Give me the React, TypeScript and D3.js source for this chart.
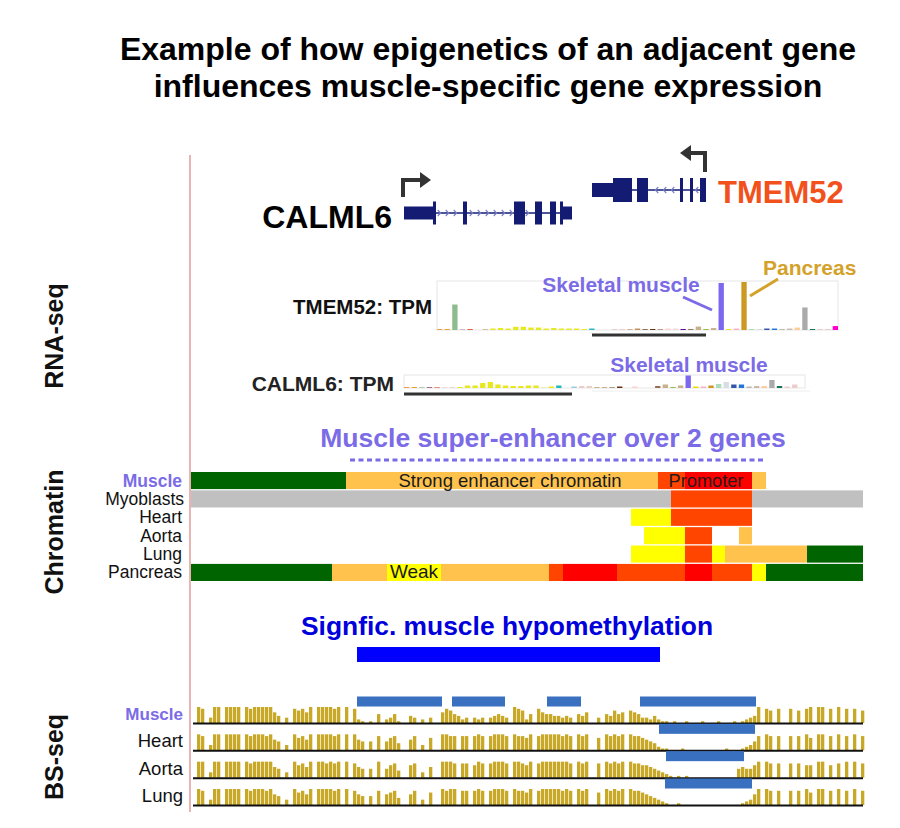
import React from "react";
import * as d3 from "d3";

const FONT = "'Liberation Sans', Arial, Helvetica, sans-serif";

const titleLines = [
  "Example of how epigenetics of an adjacent gene",
  "influences muscle-specific gene expression",
];

// genomic window in kb, from the left edge of the tracks
const regionKb = [0, 67.2];

// gene models (kb)
const calml6Span = [21.3, 38.1];
const calml6Utr = [[21.3, 24.5], [37.2, 38.1]];
const calml6Exons = [[24.2, 24.5], [27.2, 27.6], [32.3, 33.4], [34.4, 35.1], [35.9, 36.5], [36.9, 37.2]];
const tmem52Span = [40.1, 51.5];
const tmem52Utr = [[40.1, 42.2]];
const tmem52Exons = [[42.2, 44.1], [44.6, 45.7], [48.9, 49.2], [49.9, 50.2], [50.9, 51.5]];

// GTEx tissues
const tissues = [
  "Adipose Subcutaneous", "Adipose Visceral", "Adrenal Gland", "Artery Aorta", "Artery Coronary",
  "Artery Tibial", "Bladder", "Brain Amygdala", "Brain Anterior Cingulate", "Brain Caudate",
  "Brain Cerebellar Hemisphere", "Brain Cerebellum", "Brain Cortex", "Brain Frontal Cortex",
  "Brain Hippocampus", "Brain Hypothalamus", "Brain Nucleus Accumbens", "Brain Putamen",
  "Brain Spinal Cord", "Brain Substantia Nigra", "Breast", "EBV Lymphocytes", "Cultured Fibroblasts",
  "Cervix Ectocervix", "Cervix Endocervix", "Colon Sigmoid", "Colon Transverse", "Esophagus GE Junction",
  "Esophagus Mucosa", "Esophagus Muscularis", "Fallopian Tube", "Heart Atrial Appendage",
  "Heart Left Ventricle", "Kidney Cortex", "Liver", "Lung", "Minor Salivary Gland", "Muscle Skeletal",
  "Nerve Tibial", "Ovary", "Pancreas", "Pituitary", "Prostate", "Skin Not Sun Exposed",
  "Skin Sun Exposed", "Small Intestine", "Spleen", "Stomach", "Testis", "Thyroid", "Uterus",
  "Vagina", "Whole Blood",
];
const tissueColors = [
  "#f0a040", "#e8a030", "#8fbc8f", "#883355", "#e06040", "#e0b090", "#d8c0a0",
  "#e8e820", "#e8e820", "#e8e820", "#e8e820", "#e8e820", "#e8e820", "#e8e820",
  "#e8e820", "#e8e820", "#e8e820", "#e8e820", "#e8e820", "#e8e820", "#22bbbb",
  "#c0a0d0", "#99ccdd", "#eecccc", "#e8d0c8", "#ccb088", "#c09060", "#8b7355",
  "#663311", "#bb9988", "#ffd0d0", "#eed8d8", "#660099", "#9a7050", "#c8b08a",
  "#99bb44", "#c8b090", "#7b68ee", "#eedd00", "#ffb0c0", "#cc9922", "#aaddbb",
  "#d6dde4", "#3355aa", "#2277dd", "#c0b8b0", "#ccbbaa", "#ffcc99", "#aaaaaa",
  "#117755", "#eeccd0", "#eecccc", "#ff00cc",
];
const tmem52Tpm = [1, 1, 26, 0.3, 1, 0, 1, 1.5, 2, 1.5, 3.3, 3.3, 2.5, 2.5, 1.5, 2, 1.5, 1.5, 1.5, 1, 1.5, 0, 0, 1, 1, 1, 1.5, 1, 1, 1, 1.5, 1.5, 1, 1, 3.5, 1, 2, 48, 0.8, 1.5, 49, 1, 1, 1.5, 1.5, 1, 1.5, 2.5, 23, 1, 1, 1, 4];
const calml6Tpm = [1, 1, 0.7, 0.7, 0.7, 0.3, 0.5, 1, 2.5, 2.5, 5, 6, 3.5, 2.5, 2, 2, 2.5, 2.5, 0.3, 1.5, 2.5, 0, 1.5, 2, 2, 1, 0.7, 0.7, 1.5, 0, 1.5, 0, 0, 2, 3.5, 1, 2.5, 12.5, 1.5, 1.5, 2.5, 4, 6, 3.5, 3.5, 1.5, 2, 2, 8, 2, 1.5, 3.5, 0];

// chromatin states
const stateColors: Record<string, string> = {
  TssA: "#ff0000",
  TssFlnk: "#ff4500",
  Enh: "#ffc34d",
  EnhWk: "#ffff00",
  Tx: "#006400",
  Quies: "#c0c0c0",
};
const chromRows = ["Muscle", "Myoblasts", "Heart", "Aorta", "Lung", "Pancreas"];
const muscleChrom = [[0, 15.5, "Tx"], [15.5, 46.7, "Enh"], [46.7, 49.4, "TssFlnk"], [49.4, 56.1, "TssA"], [56.1, 57.5, "Enh"]];
const myoblastChrom = [[0, 48.0, "Quies"], [48.0, 56.1, "TssFlnk"], [56.1, 67.2, "Quies"]];
const heartChrom = [[44.0, 48.0, "EnhWk"], [48.0, 56.1, "TssFlnk"]];
const aortaChrom = [[45.3, 49.4, "EnhWk"], [49.4, 52.1, "TssFlnk"], [54.8, 56.1, "Enh"]];
const lungChrom = [[44.0, 49.4, "EnhWk"], [49.4, 52.1, "TssFlnk"], [52.1, 53.4, "EnhWk"], [53.4, 61.6, "Enh"], [61.6, 67.2, "Tx"]];
const pancreasChrom = [[0, 14.1, "Tx"], [14.1, 19.6, "Enh"], [19.6, 25.0, "EnhWk"], [25.0, 35.8, "Enh"], [35.8, 37.2, "TssFlnk"], [37.2, 42.6, "TssA"], [42.6, 49.4, "TssFlnk"], [49.4, 52.1, "TssA"], [52.1, 56.1, "TssFlnk"], [56.1, 57.5, "EnhWk"], [57.5, 67.2, "Tx"]];
const chromSegments = [muscleChrom, myoblastChrom, heartChrom, aortaChrom, lungChrom, pancreasChrom];

const superEnhancer = [15.9, 57.4];
const hypoRegion = [16.6, 46.9];

// BS-seq: methylation level per 0.4 kb bin (0 = no CpG, 9 = fully methylated)
const bsRows = ["Muscle", "Heart", "Aorta", "Lung"];
const muscleMeth =
  "09803990999909899999640308786909999890908" +
  "210105023510043020300687542303230345430987" +
  "2508655443" + "4305460030" + "5475607653" + "324211010" + "010001000100010" +
  "1234908708" + "0080708909" + "90809080807";
const heartMeth =
  "09803990999909899989650309786909999890909" +
  "6505080578" + "4006803070" + "0998808808" + "9808999809" + "88" +
  "7908999998" + "9809890070" + "9898909887" + "65421100" + "0100000000001000" +
  "1235809808" + "0080809709" + "90809080908";
const aortaMeth =
  "09903990999909899999650309786909989890908" +
  "6505090578" + "4007803060" + "0999808807" + "9808999809" + "98" +
  "7908999999" + "9809890080" + "9898909887" + "76543210" + "1010000000000005" +
  "6557909808" + "0080807709" + "90708090908";
const lungMeth =
  "09803990999909899989650309786909999890908" +
  "6505080678" + "4006803070" + "0989908808" + "9808999809" + "88" +
  "7908999998" + "9809890070" + "9898909887" + "65432100" + "1000000000000000" +
  "1236909808" + "0080809709" + "90809080908";
const methRows = [muscleMeth, heartMeth, aortaMeth, lungMeth];

// differentially methylated regions (kb)
const muscleDmr = [[16.6, 25.1], [26.1, 31.4], [35.6, 39.0], [44.9, 56.5]];
const heartDmr = [[46.8, 56.4]];
const aortaDmr = [[47.5, 55.3]];
const lungDmr = [[47.4, 56.1]];
const dmrRows = [muscleDmr, heartDmr, aortaDmr, lungDmr];

const PURPLE = "#7b6be6";
const NAVY = "#141b73";
const METH = "#c8a826";
const DMR = "#3a70c0";

function Gene({ x, utr, exons, y, utrH, exonH, dir }: any) {
  const intronStart = utr[0][1];
  const intronEnd = dir > 0 ? utr[utr.length - 1][0] : exons[exons.length - 1][0];
  const chev: number[] = [];
  for (let k = intronStart + 0.35; k < intronEnd - 0.2; k += 0.8) {
    if (!exons.some((e: number[]) => k > e[0] - 0.2 && k < e[1] + 0.2)) chev.push(k);
  }
  return (
    <g>
      <line x1={x(intronStart)} x2={x(intronEnd)} y1={y} y2={y} stroke={NAVY} strokeWidth={1.5} />
      {chev.map((k, i) => (
        <path
          key={i}
          d={`M${x(k) - 1.8 * dir},${y - 3}L${x(k) + 1.2 * dir},${y}L${x(k) - 1.8 * dir},${y + 3}`}
          fill="none"
          stroke="#7880c8"
          strokeWidth={1.1}
        />
      ))}
      {utr.map((u: number[], i: number) => (
        <rect key={"u" + i} x={x(u[0])} width={x(u[1]) - x(u[0])} y={y - utrH / 2} height={utrH} fill={NAVY} />
      ))}
      {exons.map((e: number[], i: number) => (
        <rect key={"e" + i} x={x(e[0])} width={Math.max(1.5, x(e[1]) - x(e[0]))} y={y - exonH / 2} height={exonH} fill={NAVY} />
      ))}
    </g>
  );
}

function TpmChart({ values, x0, x1, y0, y1, max }: any) {
  const bx = d3.scaleBand<string>().domain(tissues).range([x0, x1]).paddingInner(0.3);
  const by = d3.scaleLinear().domain([0, max]).range([y0, y1]);
  return (
    <g>
      <rect x={x0} y={y1} width={x1 - x0} height={y0 - y1} fill="none" stroke="#e6e6e6" strokeWidth={1} />
      {tissues.map((t, i) => (
        <rect key={t} x={bx(t)} width={bx.bandwidth()} y={by(values[i])} height={y0 - by(values[i])} fill={tissueColors[i]} />
      ))}
    </g>
  );
}

export default function App() {
  const W = 900;
  const H = 828;
  const x = d3.scaleLinear().domain(regionKb).range([191, 863]);
  const chromY = d3.scaleBand<string>().domain(chromRows).range([472, 581]).paddingInner(0.07);
  const bsY = d3.scalePoint<string>().domain(bsRows).range([723, 805]);
  const methH = d3.scaleLinear().domain([0, 9]).range([0, 16]);

  const calTss = x(calml6Span[0]);
  const tmTss = x(tmem52Span[1]);

  return (
    <svg
      width={W}
      height={H}
      style={{ position: "absolute", left: 0, top: 0, background: "#fff" }}
      fontFamily={FONT}
    >
      {titleLines.map((t, i) => (
        <text key={i} x={488} y={60 + i * 37} textAnchor="middle" fontSize={32} fontWeight="bold" fill="#000">
          {t}
        </text>
      ))}

      <line x1={190} x2={190} y1={155} y2={812} stroke="#e8b4b4" strokeWidth={2} />

      {[["RNA-seq", 336], ["Chromatin", 532], ["BS-seq", 757]].map(([t, cy]) => (
        <text key={t as string} transform={`translate(63,${cy}) rotate(-90)`} textAnchor="middle" fontSize={25} fontWeight="bold" fill="#111">
          {t}
        </text>
      ))}

      {/* gene models */}
      <path d={`M${calTss - 1},197V180H421`} fill="none" stroke="#333" strokeWidth={4} />
      <path d={`M420,172L431,180L420,188Z`} fill="#333" />
      <path d={`M${tmTss - 1},172V153H691`} fill="none" stroke="#333" strokeWidth={4} />
      <path d={`M691,145L680,153L691,161Z`} fill="#333" />
      <Gene x={x} utr={calml6Utr} exons={calml6Exons} y={213} utrH={13} exonH={23} dir={1} />
      <Gene x={x} utr={tmem52Utr} exons={tmem52Exons} y={190} utrH={14} exonH={24} dir={-1} />
      <text x={calTss - 12} y={228} textAnchor="end" fontSize={32} fontWeight="bold" fill="#000">CALML6</text>
      <text x={tmTss + 12} y={203} fontSize={31} fontWeight="bold" fill="#f2511b">TMEM52</text>

      {/* RNA-seq */}
      <text x={432} y={314} textAnchor="end" fontSize={20.5} fontWeight="bold" fill="#111">TMEM52: TPM</text>
      <TpmChart values={tmem52Tpm} x0={437} x1={838} y0={330} y1={281} max={50} />
      <line x1={x(tmem52Span[0])} x2={x(tmem52Span[1])} y1={335} y2={335} stroke="#333" strokeWidth={3} />
      <text x={621} y={292} textAnchor="middle" fontSize={21} fontWeight="bold" fill={PURPLE}>Skeletal muscle</text>
      <line x1={683} y1={297} x2={712} y2={310} stroke={PURPLE} strokeWidth={3} />
      <text x={763} y={275} fontSize={21} fontWeight="bold" fill="#d4a22a">Pancreas</text>
      <line x1={750} y1={296} x2={778} y2={279} stroke="#d4a22a" strokeWidth={3} />

      <text x={394} y={391} textAnchor="end" fontSize={21} fontWeight="bold" fill="#222">CALML6: TPM</text>
      <TpmChart values={calml6Tpm} x0={404} x1={805} y0={388} y1={375} max={13} />
      <line x1={592} x2={810} y1={391} y2={391} stroke="#eeeeee" strokeWidth={1} />
      <line x1={x(calml6Span[0])} x2={x(calml6Span[1])} y1={394} y2={394} stroke="#333" strokeWidth={3} />
      <text x={689} y={372} textAnchor="middle" fontSize={21} fontWeight="bold" fill={PURPLE}>Skeletal muscle</text>

      {/* super-enhancer */}
      <text x={553} y={447} textAnchor="middle" fontSize={26.5} fontWeight="bold" fill={PURPLE}>
        Muscle super-enhancer over 2 genes
      </text>
      <line x1={x(superEnhancer[0])} x2={x(superEnhancer[1])} y1={460} y2={460} stroke={PURPLE} strokeWidth={3} strokeDasharray="5,3.5" />

      {/* chromatin states */}
      {chromRows.map((r, ri) => (
        <g key={r}>
          {chromSegments[ri].map((s: any, si: number) => (
            <rect key={si} x={x(s[0])} width={x(s[1]) - x(s[0])} y={chromY(r)} height={chromY.bandwidth()} fill={stateColors[s[2]]} />
          ))}
          <text
            x={r === "Myoblasts" ? 184 : 182}
            y={(chromY(r) as number) + 14.5}
            textAnchor="end"
            fontSize={17.5}
            fontWeight={r === "Muscle" ? "bold" : "normal"}
            fill={r === "Muscle" ? PURPLE : "#111"}
          >
            {r}
          </text>
        </g>
      ))}
      <text x={x(31.9)} y={(chromY("Muscle") as number) + 14.5} textAnchor="middle" fontSize={18.5} fill="#1a1a1a">
        Strong enhancer chromatin
      </text>
      <text x={x(51.5)} y={(chromY("Muscle") as number) + 14.5} textAnchor="middle" fontSize={18.2} fill="#2a1a1a">
        Promoter
      </text>
      <text x={x(22.3)} y={(chromY("Pancreas") as number) + 14.5} textAnchor="middle" fontSize={19} fill="#1a1a1a">
        Weak
      </text>

      {/* hypomethylation */}
      <text x={507} y={635} textAnchor="middle" fontSize={26.4} fontWeight="bold" fill="#0000dd">
        Signfic. muscle hypomethylation
      </text>
      <rect x={x(hypoRegion[0])} width={x(hypoRegion[1]) - x(hypoRegion[0])} y={647} height={15} fill="#0000ff" />

      {/* BS-seq */}
      {bsRows.map((r, ri) => {
        const base = bsY(r) as number;
        return (
          <g key={r}>
            {methRows[ri].split("").map((c, i) => {
              const v = +c;
              if (!v) return null;
              const h = methH(v);
              return <rect key={i} x={x(0.2 + i * 0.4)} width={x(0.33) - x(0)} y={base - h} height={h} fill={METH} />;
            })}
            {dmrRows[ri].map((d, di) => (
              <rect key={"d" + di} x={x(d[0])} width={x(d[1]) - x(d[0])} y={base - 26.5} height={10} fill={DMR} />
            ))}
            <line x1={193} x2={863} y1={base + 0.5} y2={base + 0.5} stroke="#111" strokeWidth={2} />
            <text
              x={183}
              y={base - 3}
              textAnchor="end"
              fontSize={r === "Muscle" ? 17 : 18.5}
              fontWeight={r === "Muscle" ? "bold" : "normal"}
              fill={r === "Muscle" ? PURPLE : "#111"}
            >
              {r}
            </text>
          </g>
        );
      })}
    </svg>
  );
}
